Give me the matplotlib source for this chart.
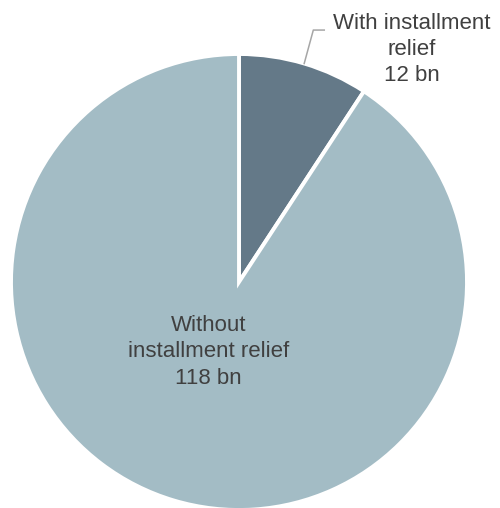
import numpy as np
import matplotlib.pyplot as plt

labels = ['With installment\nrelief\n12 bn', 'Without\ninstallment relief\n118 bn']
values = [12, 118]
colors = ['#647988', '#a3bcc5']

plt.rcParams['font.family'] = ['Liberation Sans', 'DejaVu Sans']

fig = plt.figure(figsize=(5, 5.08), dpi=100)
ax = fig.add_axes([11 / 500, -2 / 508, 456 / 500, 456 / 508])

wedges, _ = ax.pie(values, colors=colors, startangle=90, counterclock=False,
                   wedgeprops=dict(edgecolor='white', linewidth=2.8))
ax.set_xlim(-1, 1)
ax.set_ylim(-1, 1)
ax.set_aspect('auto')
ax.axis('off')

txt_color = '#404040'

# small slice: leader line from the wedge's middle angle
w = wedges[0]
mid = np.deg2rad((w.theta1 + w.theta2) / 2)
x0, y0 = np.cos(mid), np.sin(mid)
ax.plot([x0, x0 + 0.04, x0 + 0.088], [y0, 1.105, 1.105], color='#a6a6a6', lw=1.1,
        clip_on=False)
ax.text(0.757, 1.02, labels[0], ha='center', va='center', fontsize=16,
        color=txt_color, linespacing=1.32)

ax.text(-0.134, -0.307, labels[1], ha='center', va='center', fontsize=16,
        color=txt_color, linespacing=1.32)

fig.savefig('out.png', dpi=100)
